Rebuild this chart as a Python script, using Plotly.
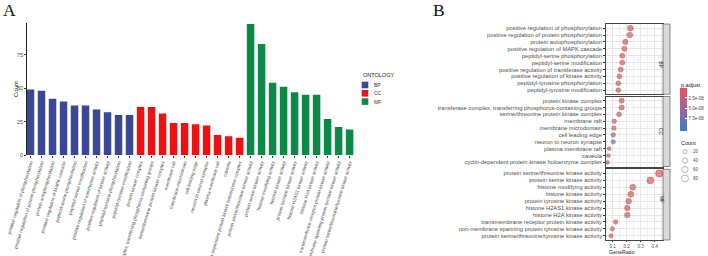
import plotly.graph_objects as go
import numpy as np

W, H = 708, 256

# ---------------- data ----------------
bp_terms = ["positive regulation of phosphorylation",
            "positive regulation of protein phosphorylation",
            "protein autophosphorylation",
            "positive regulation of MAPK cascade",
            "peptidyl-serine phosphorylation",
            "peptidyl-serine modification",
            "positive regulation of transferase activity",
            "positive regulation of kinase activity",
            "peptidyl-tyrosine phosphorylation",
            "peptidyl-tyrosine modification"]
cc_terms = ["protein kinase complex",
            "transferase complex, transferring phosphorus-containing groups",
            "serine/threonine protein kinase complex",
            "membrane raft",
            "membrane microdomain",
            "cell leading edge",
            "neuron to neuron synapse",
            "plasma membrane raft",
            "caveola",
            "cyclin-dependent protein kinase holoenzyme complex"]
mf_terms = ["protein serine/threonine kinase activity",
            "protein serine kinase activity",
            "histone modifying activity",
            "histone kinase activity",
            "protein tyrosine kinase activity",
            "histone H2AS1 kinase activity",
            "histone H2A kinase activity",
            "transmembrane receptor protein kinase activity",
            "non-membrane spanning protein tyrosine kinase activity",
            "protein serine/threonine/tyrosine kinase activity"]

bp_counts = [49, 48, 42, 40, 37, 37, 34, 32, 30, 30]
cc_counts = [36, 36, 31, 24, 24, 23, 22, 15, 14, 13]
mf_counts = [98, 83, 54, 51, 47, 45, 45, 27, 21, 19]

bp_ratio = [0.226, 0.222, 0.190, 0.183, 0.169, 0.169, 0.157, 0.148, 0.140, 0.140]
cc_ratio = [0.164, 0.164, 0.145, 0.111, 0.109, 0.104, 0.104, 0.074, 0.069, 0.064]
mf_ratio = [0.433, 0.369, 0.243, 0.229, 0.214, 0.204, 0.204, 0.121, 0.097, 0.088]

bp_padj = [1e-10, 1e-10, 2e-10, 2e-10, 3e-10, 3e-10, 4e-10, 5e-10, 6e-10, 7e-10]
cc_padj = [1e-10, 1e-10, 3e-10, 8e-10, 9e-10, 5.4e-08, 1.0e-07, 2e-09, 2e-09, 3e-09]
mf_padj = [1e-11, 1e-11, 1e-10, 1e-10, 2e-10, 2e-10, 2e-10, 5e-10, 8e-10, 9e-10]

ontologies = ["BP", "CC", "MF"]
onto_colors = {"BP": "#3B4994", "CC": "#EE1111", "MF": "#0B8A47"}

size_legend_counts = [20, 40, 60, 80]
padj_ticks = [2.5e-08, 5.0e-08, 7.5e-08]
ratio_ticks = [0.1, 0.2, 0.3, 0.4]
count_ticks = [0, 25, 50, 75]

# ---------------- helpers ----------------
def px_x(p):
    return p / W

def px_y(p):
    return 1 - p / H

def dot_size(c):
    return 1.5 + 0.6 * np.sqrt(np.asarray(c, dtype=float))

FONT = "Liberation Sans, Arial, sans-serif"
SERIF = "Liberation Serif, Times New Roman, serif"
TICKGREY = "#4D4D4D"

fig = go.Figure()

# ---------------- Panel A: bar chart ----------------
all_terms = bp_terms + cc_terms + mf_terms
groups = {"BP": (bp_terms, bp_counts), "CC": (cc_terms, cc_counts), "MF": (mf_terms, mf_counts)}
for g in ontologies:
    terms, counts = groups[g]
    fig.add_trace(go.Bar(x=terms, y=counts, marker=dict(color=onto_colors[g], line=dict(width=0)),
                         width=0.68, name=g, showlegend=False, xaxis="x", yaxis="y"))

# ---------------- Panel B: dot plot facets ----------------
neg_min = -1.05e-07
facets = [("BP", bp_terms, bp_ratio, bp_counts, bp_padj, "x2", "y2"),
          ("CC", cc_terms, cc_ratio, cc_counts, cc_padj, "x3", "y3"),
          ("MF", mf_terms, mf_ratio, mf_counts, mf_padj, "x4", "y4")]
colorscale = [[0.0, "#3A7DC2"], [0.5, "#9A68A0"], [1.0, "#E55556"]]
for i, (g, terms, ratio, counts, padj, xa, ya) in enumerate(facets):
    fig.add_trace(go.Scatter(
        x=ratio, y=terms, mode="markers", xaxis=xa, yaxis=ya, showlegend=False,
        marker=dict(size=dot_size(counts), color=[-p for p in padj],
                    colorscale=colorscale, cmin=neg_min, cmax=0,
                    line=dict(color="#5a3a3a", width=0.5),
                    showscale=(i == 0),
                    colorbar=dict(
                        x=px_x(680), xanchor="left", y=px_y(87.7), yanchor="top",
                        len=42.5 / H, lenmode="fraction", thickness=7, thicknessmode="pixels",
                        xpad=0, ypad=0, outlinewidth=0,
                        tickvals=[-v for v in padj_ticks],
                        ticktext=["%.1e" % v for v in padj_ticks],
                        ticks="inside", ticklen=2, tickcolor="white",
                        tickfont=dict(size=4.5, color=TICKGREY, family=FONT),
                    ))))

# Count size legend (own hidden axes)
fig.add_trace(go.Scatter(
    x=[5] * len(size_legend_counts), y=list(range(len(size_legend_counts))),
    mode="markers", xaxis="x5", yaxis="y5", showlegend=False, hoverinfo="skip",
    marker=dict(size=dot_size(size_legend_counts), color="white", line=dict(color="#555", width=0.6))))

# ---------------- layout ----------------
layout = dict(
    width=W, height=H, margin=dict(l=0, r=0, t=0, b=0, autoexpand=False),
    paper_bgcolor="white", plot_bgcolor="white",
    font=dict(family=FONT, color="#222"),
    barmode="overlay", showlegend=False,
)

# Panel A axes
layout["xaxis"] = dict(domain=[px_x(27), px_x(354)], range=[-0.32, 29.4], type="category",
                       categoryorder="array", categoryarray=all_terms,
                       tickmode="array", tickvals=all_terms, automargin=False,
                       tickangle=-73, tickfont=dict(size=4.6, color=TICKGREY, family=FONT),
                       ticks="outside", ticklen=2, tickcolor="#333", tickwidth=0.5,
                       showline=False, showgrid=False, zeroline=False, anchor="y")
layout["yaxis"] = dict(domain=[px_y(155), px_y(22.7)], range=[0, 99], tickmode="array",
                       tickvals=count_ticks, automargin=False,
                       tickfont=dict(size=5.5, color=TICKGREY, family=FONT),
                       ticks="outside", ticklen=2, tickcolor="#333", tickwidth=0.5,
                       showline=True, linecolor="#222", linewidth=0.8, showgrid=False, zeroline=False,
                       anchor="x")

# Panel B axes
b_x_dom = [px_x(606), px_x(663)]
panels_px = [(24, 94.3), (96.5, 166.5), (169.3, 240)]
for k, (top, bot) in enumerate(panels_px):
    xi = k + 2
    xname = "xaxis%d" % xi
    yname = "yaxis%d" % xi
    last = (k == 2)
    layout[xname] = dict(domain=b_x_dom, range=[0.052, 0.459], anchor="y%d" % xi, automargin=False,
                         tickmode="array", tickvals=ratio_ticks, showticklabels=last,
                         ticks="outside" if last else "", ticklen=1.5, tickcolor="#333", tickwidth=0.5,
                         ticklabelstandoff=0,
                         tickfont=dict(size=4.6, color=TICKGREY, family=FONT),
                         showgrid=True, gridcolor="#E6E6E6", gridwidth=0.6,
                         minor=dict(tickmode="array", tickvals=[0.05, 0.15, 0.25, 0.35, 0.45],
                                    showgrid=True, gridcolor="#F2F2F2", gridwidth=0.4),
                         showline=True, mirror=True, linecolor="#444", linewidth=0.6, zeroline=False)
    terms = facets[k][1]
    layout[yname] = dict(domain=[px_y(bot), px_y(top)], anchor="x%d" % xi, type="category",
                         categoryorder="array", categoryarray=terms, automargin=False,
                         tickmode="array", tickvals=terms,
                         range=[len(terms) - 0.4, -0.6],
                         tickfont=dict(size=5.8, color=TICKGREY, family=FONT),
                         ticks="outside", ticklen=2, tickcolor="#333", tickwidth=0.5,
                         showgrid=True, gridcolor="#E6E6E6", gridwidth=0.6,
                         showline=True, mirror=True, linecolor="#444", linewidth=0.6, zeroline=False)

# hidden size-legend axes
layout["xaxis5"] = dict(domain=[px_x(680), px_x(700)], range=[0, 20], visible=False, anchor="y5", automargin=False)
layout["yaxis5"] = dict(domain=[px_y(183), px_y(147)], range=[3.5, -0.5], visible=False, anchor="x5", automargin=False)

fig.update_layout(**layout)

# strips
shapes = []
annotations = []
for k, (top, bot) in enumerate(panels_px):
    shapes.append(dict(type="rect", xref="paper", yref="paper", x0=px_x(663), x1=px_x(670),
                       y0=px_y(bot), y1=px_y(top), fillcolor="#D9D9D9",
                       line=dict(color="#444", width=0.6), layer="above"))
    annotations.append(dict(xref="paper", yref="paper", x=px_x(666.5), y=px_y((top + bot) / 2),
                            text=ontologies[k], textangle=90, showarrow=False,
                            font=dict(size=5, color="#1A1A1A", family=FONT)))

# axis titles
annotations.append(dict(xref="paper", yref="paper", x=px_x(634.5), y=px_y(256), yanchor="bottom",
                        text="GeneRatio", showarrow=False, borderpad=0,
                        font=dict(size=5.3, color="#222", family=FONT)))
annotations.append(dict(xref="paper", yref="paper", x=px_x(11), y=px_y(89), text="Count", textangle=-90,
                        showarrow=False, font=dict(size=6, color="#111", family=FONT)))

# Panel A legend (ONTOLOGY)
annotations.append(dict(xref="paper", yref="paper", x=px_x(361), y=px_y(75), xanchor="left", yanchor="middle",
                        text="ONTOLOGY", showarrow=False, font=dict(size=5.5, color="#222", family=FONT)))
key_tops = [81.7, 90.0, 98.3]
for g, kt in zip(ontologies, key_tops):
    shapes.append(dict(type="rect", xref="paper", yref="paper", x0=px_x(361.7), x1=px_x(368.3),
                       y0=px_y(kt + 6.6), y1=px_y(kt), fillcolor=onto_colors[g], line=dict(width=0)))
    annotations.append(dict(xref="paper", yref="paper", x=px_x(371.5), y=px_y(kt + 3.3),
                            xanchor="left", yanchor="middle", text=g, showarrow=False,
                            font=dict(size=5, color="#333", family=FONT)))

# p.adjust legend title
annotations.append(dict(xref="paper", yref="paper", x=px_x(678.5), y=px_y(84.5), xanchor="left", yanchor="middle",
                        text="p.adjust", showarrow=False, font=dict(size=5.5, color="#222", family=FONT)))

# Count legend text
annotations.append(dict(xref="paper", yref="paper", x=px_x(678.5), y=px_y(143), xanchor="left", yanchor="middle",
                        text="Count", showarrow=False, font=dict(size=5.5, color="#222", family=FONT)))
for j, c in enumerate(size_legend_counts):
    annotations.append(dict(xref="x5", yref="y5", x=10.5, y=j, xanchor="left", yanchor="middle",
                            text=str(c), showarrow=False, font=dict(size=4.5, color=TICKGREY, family=FONT)))

# panel letters
annotations.append(dict(xref="paper", yref="paper", x=px_x(0.5), y=px_y(10.3), xanchor="left", yanchor="middle",
                        text="A", showarrow=False, font=dict(size=17.5, color="#111", family=SERIF)))
annotations.append(dict(xref="paper", yref="paper", x=px_x(430.5), y=px_y(9.5), xanchor="left", yanchor="middle",
                        text="B", showarrow=False, font=dict(size=17.5, color="#111", family=SERIF)))

fig.update_layout(shapes=shapes, annotations=annotations)
fig.write_html("out.html")
